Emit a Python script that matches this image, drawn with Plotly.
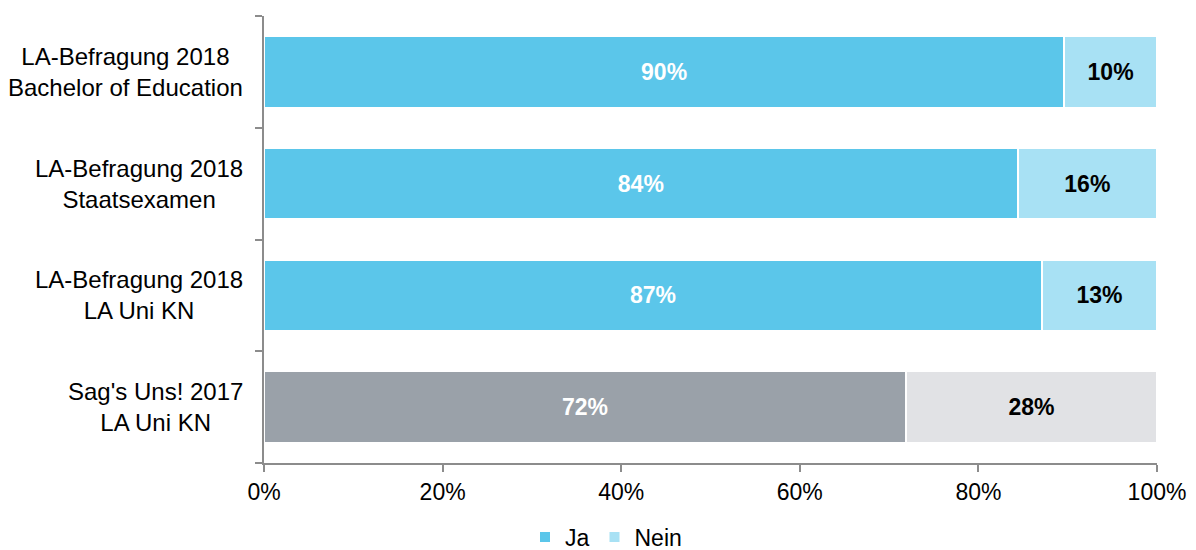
import plotly.graph_objects as go

categories = ["LA-Befragung 2018<br>Bachelor of Education",
              "LA-Befragung 2018<br>Staatsexamen",
              "LA-Befragung 2018<br>LA Uni KN",
              "Sag's Uns! 2017<br>LA Uni KN"]
ja = [89.6, 84.4, 87.1, 71.9]
nein = [10.4, 15.6, 12.9, 28.1]
ja_labels = ["90%", "84%", "87%", "72%"]
nein_labels = ["10%", "16%", "13%", "28%"]
x_ticks = [0, 20, 40, 60, 80, 100]
x_tick_labels = ["0%", "20%", "40%", "60%", "80%", "100%"]
blue_idx = [0, 1, 2]
gray_idx = [3]

FONT = "Liberation Sans, Arial, sans-serif"
fig = go.Figure()

def add(idx, vals, labels, color, txtcolor, name, show):
    fig.add_trace(go.Bar(
        y=[categories[i] for i in idx], x=[vals[i] for i in idx],
        text=[labels[i] for i in idx], orientation="h", name=name,
        marker=dict(color=color, line=dict(color="white", width=2)),
        textposition="inside", insidetextanchor="middle",
        textfont=dict(family=FONT, size=23, color=txtcolor, weight="bold"),
        width=0.64, showlegend=show, legendgroup=name, hoverinfo="skip"))

add(blue_idx, ja, ja_labels, "#5BC6EA", "white", "Ja", True)
add(gray_idx, ja, ja_labels, "#9AA1A9", "white", "Ja", False)
add(blue_idx, nein, nein_labels, "#A8E1F4", "black", "Nein", True)
add(gray_idx, nein, nein_labels, "#E1E2E5", "black", "Nein", False)

# category labels, centred multi-line blocks to the left of the axis
for c in categories:
    fig.add_annotation(x=-0.021, xref="paper", xanchor="right", y=c, yref="y",
                       text=c, showarrow=False, align="center",
                       font=dict(family=FONT, size=24, color="black"))

fig.update_layout(
    width=1196, height=550, barmode="stack",
    margin=dict(l=256, r=47, t=8, b=95, autoexpand=False),
    paper_bgcolor="white", plot_bgcolor="white",
    font=dict(family=FONT, size=23, color="black"),
    uniformtext=dict(minsize=10, mode="show"),
    legend=dict(orientation="h", xref="container", x=0.5, xanchor="center",
                yref="container", y=0.038, yanchor="middle",
                font=dict(size=23), traceorder="normal", itemwidth=30),
)
fig.update_xaxes(range=[0, 100], tickvals=x_ticks, ticktext=x_tick_labels,
                 showgrid=False, zeroline=False, showline=True, linecolor="#8c8c8c",
                 linewidth=2, ticks="outside", ticklen=7, tickcolor="#8c8c8c", tickwidth=2,
                 tickfont=dict(size=23), automargin=False)
fig.update_yaxes(categoryorder="array", categoryarray=categories[::-1], range=[-0.5, 3.5],
                 showgrid=False, showline=True, linecolor="#8c8c8c", linewidth=2,
                 ticks="outside", ticklen=7, tickcolor="#8c8c8c", tickwidth=2,
                 tickson="boundaries", showticklabels=False, automargin=False)

fig.write_html("out.html")
